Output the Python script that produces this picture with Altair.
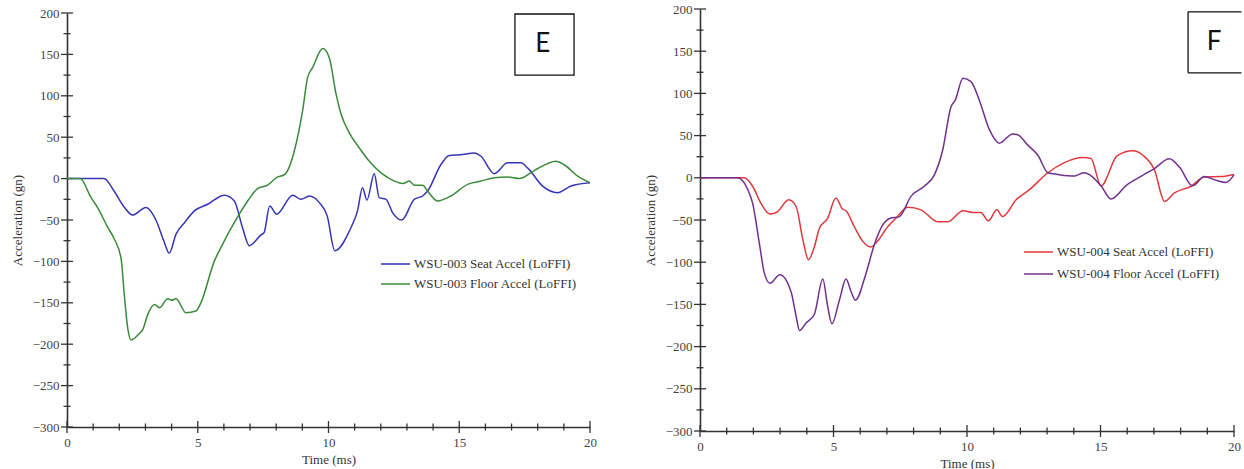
import altair as alt
import pandas as pd

# ---------------- Panel E (WSU-003) ----------------
e_names = ["WSU-003 Seat Accel (LoFFI)", "WSU-003 Floor Accel (LoFFI)"]
e_colors = ["#3535b5", "#3a8a3a"]
e_seat_t = [0, 1.0, 1.41, 1.8, 2.2, 2.5, 3.02, 3.4, 3.7, 3.91, 4.17, 4.5, 4.87, 5.38, 6.02, 6.4,
            6.71, 6.97, 7.42, 7.54, 7.75, 8.02, 8.63, 8.95, 9.27, 9.65, 9.95, 10.24, 10.86, 11.11,
            11.3, 11.47, 11.75, 11.94, 12.2, 12.45, 12.8, 13.28, 13.6, 13.79, 14.3, 14.62, 15.13,
            15.57, 15.83, 16.34, 16.85, 17.36, 17.61, 18.19, 18.76, 19.27, 20.0]
e_seat_v = [0, 0, 0, -15, -35, -44, -35, -50, -75, -90, -67, -53, -39, -31, -20, -27,
            -59, -81, -68, -65, -33, -43, -20, -25, -21, -29, -45, -87, -59, -39,
            -11, -26, 6, -23, -25, -41, -50, -25, -21, -15, 17, 28, 29,
            31, 27, 6, 19, 19, 13, -9, -17, -9, -5]
e_floor_t = [0, 0.5, 0.92, 1.17, 1.56, 1.81, 2.07, 2.19, 2.32, 2.45, 2.77, 2.9, 3.09, 3.35, 3.54,
             3.85, 4.0, 4.17, 4.55, 4.93, 5.12, 5.63, 5.89, 6.4, 6.91, 7.29, 7.67, 8.0, 8.33,
             8.69, 9.01, 9.2, 9.39, 9.78, 10.03, 10.29, 10.48, 10.8, 11.18, 11.56, 12.01, 12.52,
             12.84, 13.09, 13.28, 13.6, 13.79, 14.17, 14.68, 15.32, 15.83, 16.34, 16.85, 17.3,
             17.88, 18.7, 19.0, 19.53, 20.0]
e_floor_v = [0, 0, -23, -35, -59, -73, -97, -140, -180, -195, -187, -182, -164, -152, -156,
             -145, -147, -145, -162, -160, -150, -100, -83, -53, -27, -12, -8, 1, 5,
             33, 82, 122, 134, 157, 146, 102, 78, 55, 37, 21, 7, -3,
             -6, -3, -8, -8, -15, -27, -21, -7, -3, 1, 2, 0,
             10, 21, 17, 3, -5]

# ---------------- Panel F (WSU-004) ----------------
f_names = ["WSU-004 Seat Accel (LoFFI)", "WSU-004 Floor Accel (LoFFI)"]
f_colors = ["#e0383a", "#72308e"]
f_seat_t = [0, 1.0, 1.66, 1.97, 2.28, 2.62, 2.91, 3.32, 3.6, 3.85, 4.06, 4.29, 4.47, 4.78, 5.09,
            5.34, 5.47, 5.78, 6.09, 6.4, 6.65, 7.03, 7.34, 7.78, 8.28, 8.9, 9.28, 9.85, 10.21,
            10.52, 10.8, 11.12, 11.33, 11.84, 12.34, 13.03, 13.65, 14.33, 14.64, 15.02, 15.62,
            16.2, 16.58, 17.02, 17.4, 17.77, 18.39, 18.89, 19.51, 20.0]
f_seat_v = [0, 0, 0, -10, -30, -43, -40, -26, -34, -73, -97, -81, -60, -48, -24,
            -37, -39, -58, -75, -82, -75, -58, -48, -35, -38, -52, -52, -39, -41,
            -41, -51, -38, -46, -26, -14, 6, 18, 24, 23, -9.5, 26,
            32, 27, 9.5, -28, -18, -10, 1, 1.5, 4]
f_floor_t = [0, 1.0, 1.41, 1.79, 1.97, 2.22, 2.41, 2.62, 2.99, 3.41, 3.6, 3.73, 3.97, 4.28, 4.6,
             4.78, 4.94, 5.22, 5.47, 5.66, 5.82, 6.22, 6.53, 6.84, 7.13, 7.47, 7.9, 8.4, 8.78,
             9.09, 9.4, 9.56, 9.85, 10.15, 10.46, 10.84, 11.21, 11.71, 11.9, 12.27, 12.65,
             13.03, 13.4, 14.02, 14.37, 15.02, 15.39, 16.0, 16.5, 17.02, 17.58, 17.95, 18.45,
             18.89, 19.33, 19.7, 20.0]
f_floor_v = [0, 0, 0, -14, -30, -77, -113, -125, -115, -135, -164, -181, -172, -162, -120,
             -152, -173, -145, -120, -135, -145, -113, -79, -56, -48, -46, -22, -10, 3.5,
             33, 84, 92, 118, 114, 92, 57, 41, 52, 51, 39, 27,
             6, 4, 2, 6, -9.5, -25, -8, 1.5, 11, 22.5, 13, -9.5,
             1.5, -3, -5.5, 3.5]

# ---------------- axes / ticks ----------------
x_domain = [0, 20]
y_domain = [-300, 200]
x_major = [0, 5, 10, 15, 20]
x_minor = [1, 2, 3, 4, 6, 7, 8, 9, 11, 12, 13, 14, 16, 17, 18, 19]
y_major = [-300, -250, -200, -150, -100, -50, 0, 50, 100, 150, 200]
y_minor = [-275, -225, -175, -125, -75, -25, 25, 75, 125, 175]

# annotation boxes (data coordinates)
e_box_t = [17.13, 19.39]
e_box_v = [125, 198.8]
e_label = ["E", 18.19, 163]
f_box_t = [18.28, 20.28]
f_box_v = [124.4, 196.7]
f_label = ["F", 19.25, 161]

SERIF = "Liberation Serif"
AX = "#333333"


def panel(seat_t, seat_v, floor_t, floor_v, names, colors, w, h, leg_x, leg_y, row_gap,
          box_t, box_v, label, closed_box):
    rows = []
    for i, (t, v) in enumerate(zip(seat_t, seat_v)):
        rows.append({"t": t, "v": v, "series": names[0], "i": i})
    for i, (t, v) in enumerate(zip(floor_t, floor_v)):
        rows.append({"t": t, "v": v, "series": names[1], "i": i})
    df = pd.DataFrame(rows)
    xs = alt.Scale(domain=x_domain, nice=False, zero=False)
    ys = alt.Scale(domain=y_domain, nice=False, zero=False)
    cs = alt.Scale(domain=names, range=colors)

    xax = alt.Axis(values=x_major, ticks=False, grid=False, domainColor=AX,
                   domainWidth=1.6, labelFont=SERIF, labelFontSize=13, labelFlush=False,
                   labelColor="#444444", labelPadding=9, titleFont=SERIF,
                   titleFontSize=13, titleFontWeight="normal", titleColor="#333333",
                   titleY=32, titleBaseline="middle")
    yax = alt.Axis(values=y_major, ticks=False, grid=False, domainColor=AX,
                   domainWidth=1.6, labelFont=SERIF, labelFontSize=13,
                   labelColor="#444444", labelPadding=8, titleFont=SERIF,
                   titleFontSize=13, titleFontWeight="normal", titleColor="#333333",
                   titleX=-50, titleY=h / 2, titleAngle=-90,
                   titleBaseline="middle", titleAlign="center")
    XT = "Time (ms)"
    YT = "Acceleration (gn)"

    lines = alt.Chart(df).mark_line(strokeWidth=1.5, interpolate="monotone").encode(
        x=alt.X("t:Q", scale=xs, title=XT, axis=xax),
        y=alt.Y("v:Q", scale=ys, title=YT, axis=yax),
        color=alt.Color("series:N", scale=cs, legend=None),
        order="i:Q",
    )

    def rules(df_, xenc, yenc, x2=None, y2=None):
        enc = dict(x=xenc, y=yenc)
        if x2 is not None:
            enc["x2"] = x2
        if y2 is not None:
            enc["y2"] = y2
        return alt.Chart(df_).mark_rule(color=AX, strokeWidth=1.3).encode(**enc)

    ymaj = rules(pd.DataFrame({"v": y_major}), alt.value(-6),
                 alt.Y("v:Q", scale=ys, title=YT, axis=yax), x2=alt.value(6))
    ymin = rules(pd.DataFrame({"v": y_minor}), alt.value(-3.5),
                 alt.Y("v:Q", scale=ys, title=YT, axis=yax), x2=alt.value(3.5))
    xmaj = rules(pd.DataFrame({"t": x_major}), alt.X("t:Q", scale=xs, title=XT, axis=xax),
                 alt.value(h - 6), y2=alt.value(h + 6))
    xmin = rules(pd.DataFrame({"t": x_minor}), alt.X("t:Q", scale=xs, title=XT, axis=xax),
                 alt.value(h - 3.5), y2=alt.value(h + 3.5))

    layers = [ymin, ymaj, xmin, xmaj, lines]

    if closed_box:
        box = alt.Chart(pd.DataFrame({"t": [box_t[0]], "t1": [box_t[1]],
                                      "v": [box_v[0]], "v1": [box_v[1]]})).mark_rect(
            fill="white", stroke="#111111", strokeWidth=1.3).encode(
            x=alt.X("t:Q", scale=xs, title=XT, axis=xax), x2="t1:Q",
            y=alt.Y("v:Q", scale=ys, title=YT, axis=yax), y2="v1:Q")
    else:
        edges = pd.DataFrame({
            "t": [box_t[0], box_t[0], box_t[0]],
            "tb": [box_t[1], box_t[1], box_t[0]],
            "v": [box_v[1], box_v[0], box_v[0]],
            "vb": [box_v[1], box_v[0], box_v[1]],
        })
        box = alt.Chart(edges).mark_rule(color="#111111", strokeWidth=1.3).encode(
            x=alt.X("t:Q", scale=xs, title=XT, axis=xax), x2="tb:Q",
            y=alt.Y("v:Q", scale=ys, title=YT, axis=yax), y2="vb:Q")
    layers.append(box)

    txt = alt.Chart(pd.DataFrame({"s": [label[0]], "t": [label[1]], "v": [label[2]]})).mark_text(
        font="Lato", fontSize=26, color="#111111", align="center", baseline="middle").encode(
        x=alt.X("t:Q", scale=xs, title=XT, axis=xax),
        y=alt.Y("v:Q", scale=ys, title=YT, axis=yax), text="s:N")
    layers.append(txt)

    # legend (symbol line + label per series)
    leg = pd.DataFrame({"series": names,
                        "yp": [leg_y, leg_y + row_gap],
                        "x0": [leg_x] * 2, "x1": [leg_x + 29] * 2, "xt": [leg_x + 33] * 2})
    leg_lines = alt.Chart(leg).mark_rule(strokeWidth=1.5).encode(
        x=alt.X("x0:Q", scale=None), x2="x1:Q", y=alt.Y("yp:Q", scale=None),
        color=alt.Color("series:N", scale=cs, legend=None))
    leg_text = alt.Chart(leg).mark_text(font=SERIF, fontSize=13, color="#333333",
                                        align="left", baseline="middle").encode(
        x=alt.X("xt:Q", scale=None), y=alt.Y("yp:Q", scale=None), text="series:N")
    layers += [leg_lines, leg_text]

    return alt.layer(*layers).properties(width=w, height=h)


left = panel(e_seat_t, e_seat_v, e_floor_t, e_floor_v, e_names, e_colors, 523, 414,
             314, 251, 20, e_box_t, e_box_v, e_label, True)
right = panel(f_seat_t, f_seat_v, f_floor_t, f_floor_v, f_names, f_colors, 534, 422,
              324, 243, 22, f_box_t, f_box_v, f_label, False)

chart = alt.hconcat(left, right, spacing=110, bounds="flush", center=True).resolve_scale(
    color="independent", x="independent", y="independent"
).properties(
    padding={"left": 11, "top": 3, "right": 0, "bottom": 0}
).configure_view(stroke=None)

chart.save("out.html", embed_options={"renderer": "svg", "actions": False})
